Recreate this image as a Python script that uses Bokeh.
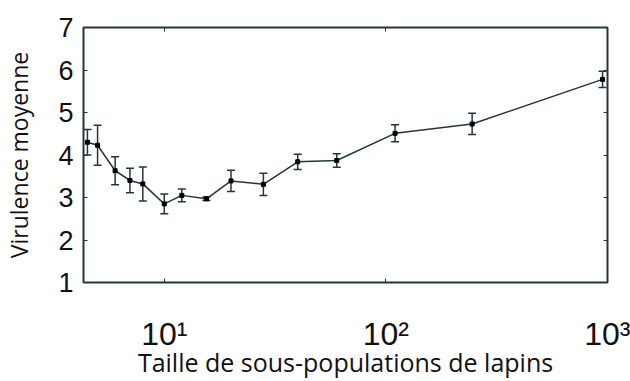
from bokeh.plotting import figure
from bokeh.models import FixedTicker, LinearAxis, LogAxis, ColumnDataSource
from bokeh.embed import file_html
from bokeh.resources import INLINE

# ---- data ----
sizes = [4.5, 5, 6, 7, 8, 10, 12, 15.5, 20, 28, 40, 60, 110, 245, 950]
virulence = [4.30, 4.23, 3.63, 3.40, 3.32, 2.85, 3.05, 2.97, 3.39, 3.31, 3.84, 3.87, 4.51, 4.73, 5.78]
errors = [0.30, 0.47, 0.33, 0.29, 0.40, 0.23, 0.15, 0.04, 0.25, 0.26, 0.18, 0.16, 0.20, 0.25, 0.19]
y_ticks = [1, 2, 3, 4, 5, 6, 7]
x_ticks = [10, 100, 1000]
x_tick_labels = ["10\u00b9", "10\u00b2", "10\u00b3"]
x_label = "Taille de sous-populations de lapins"
y_label = "Virulence moyenne"

INK = "#24363d"
NUM_FONT = "Liberation Sans"
TXT_FONT = "Open Sans"

upper = [v + e for v, e in zip(virulence, errors)]
lower = [v - e for v, e in zip(virulence, errors)]
src = ColumnDataSource(dict(x=sizes, y=virulence, up=upper, lo=lower))

p = figure(width=630, height=381, x_axis_type="log",
           x_range=(4.32, 1000), y_range=(1, 7),
           output_backend="svg", toolbar_location=None,
           min_border_left=83, min_border_right=23,
           min_border_top=27, min_border_bottom=95)
p.background_fill_color = "white"
p.border_fill_color = "white"
p.outline_line_color = INK
p.outline_line_width = 2
p.xgrid.visible = False
p.ygrid.visible = False

# left axis
yax = p.yaxis[0]
yax.ticker = FixedTicker(ticks=y_ticks)
yax.major_tick_in = 4
yax.major_tick_out = 0
yax.minor_tick_line_color = None
yax.axis_line_color = None
yax.major_tick_line_color = INK
yax.major_label_text_font = NUM_FONT
yax.major_label_text_font_size = "27px"
yax.major_label_text_color = "#111111"
yax.major_label_standoff = 10
yax.axis_label = y_label
yax.axis_label_text_font = TXT_FONT
yax.axis_label_text_font_size = "23px"
yax.axis_label_text_font_style = "normal"
yax.axis_label_text_color = "#111111"
yax.axis_label_standoff = 20

# bottom axis
xax = p.xaxis[0]
xax.ticker = FixedTicker(ticks=x_ticks)
xax.major_label_overrides = dict(zip(x_ticks, x_tick_labels))
xax.major_tick_in = 4
xax.major_tick_out = 0
xax.minor_tick_line_color = None
xax.axis_line_color = None
xax.major_tick_line_color = INK
xax.major_label_text_font = NUM_FONT
xax.major_label_text_font_size = "32px"
xax.major_label_text_color = "#111111"
xax.major_label_standoff = 33
xax.axis_label = x_label
xax.axis_label_text_font = TXT_FONT
xax.axis_label_text_font_size = "25px"
xax.axis_label_text_font_style = "normal"
xax.axis_label_text_color = "#111111"
xax.axis_label_standoff = -10

# mirrored axes (box ticks)
rax = LinearAxis(ticker=FixedTicker(ticks=y_ticks), major_tick_in=4, major_tick_out=0,
                 minor_tick_line_color=None, axis_line_color=None,
                 major_tick_line_color=INK, major_label_text_font_size="2px",
                 major_label_text_color=None, major_label_standoff=0)
p.add_layout(rax, "right")
tax = LogAxis(ticker=FixedTicker(ticks=x_ticks), major_tick_in=4, major_tick_out=0,
              minor_tick_line_color=None, axis_line_color=None,
              major_tick_line_color=INK, major_label_text_font_size="2px",
              major_label_text_color=None, major_label_standoff=0)
p.add_layout(tax, "above")

# data
p.segment(x0="x", y0="lo", x1="x", y1="up", source=src, line_color=INK, line_width=1.5)
p.scatter(x="x", y="up", source=src, marker="dash", size=8, line_color=INK, line_width=1.5)
p.scatter(x="x", y="lo", source=src, marker="dash", size=8, line_color=INK, line_width=1.5)
p.line(x="x", y="y", source=src, line_color=INK, line_width=1.5)
p.scatter(x="x", y="y", source=src, marker="square", size=4, fill_color="black", line_color="black")

open("out.html", "w").write(file_html(p, INLINE))
